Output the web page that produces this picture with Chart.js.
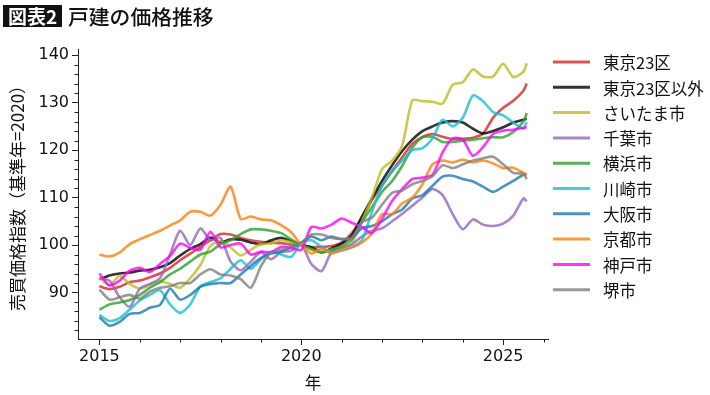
<!DOCTYPE html>
<html><head><meta charset="utf-8">
<script src="https://cdn.jsdelivr.net/npm/chart.js@4.4.1/dist/chart.umd.min.js"></script>
<style>
html,body{margin:0;padding:0;background:#fff;}
#wrap{position:relative;width:710px;height:395px;overflow:hidden;}
#c{position:absolute;left:0;top:0;}
#badge{position:absolute;left:3px;top:5px;width:59px;height:22px;background:#111;color:#fff;font:bold 19px "Noto Sans CJK JP";line-height:22px;text-align:center;}
#ttl{position:absolute;left:68px;top:2px;font:500 20.8px "Noto Sans CJK JP";line-height:28px;color:#111;white-space:nowrap;}
</style></head>
<body>
<div id="wrap">
<canvas id="c" width="710" height="395"></canvas>
<div id="badge">図表2</div>
<div id="ttl">戸建の価格推移</div>
</div>
<script>
// ---- data (quarterly readings, decimal year) ----
const years = [2015,2015.25,2015.5,2015.75,2016,2016.25,2016.5,2016.75,2017,2017.25,2017.5,2017.75,2018,2018.25,2018.5,2018.75,2019,2019.25,2019.5,2019.75,2020,2020.25,2020.5,2020.75,2021,2021.25,2021.5,2021.75,2022,2022.25,2022.5,2022.75,2023,2023.25,2023.5,2023.75,2024,2024.25,2024.5,2024.75,2025,2025.25,2025.5,2025.583];
const seriesNames = ["東京23区","東京23区以外","さいたま市","千葉市","横浜市","川崎市","大阪市","京都市","神戸市","堺市"];
const tokyo23 = [91.3,90.7,91.2,92.2,92.5,93.2,94.0,95.2,96.8,98.2,99.6,101.0,102.3,102.2,101.5,101.0,100.7,100.5,100.4,100.1,100.0,99.6,99.6,99.8,100.5,102.5,105.5,109.5,112.5,115.6,118.5,121.3,122.8,123.4,122.8,122.3,122.4,122.6,123.5,126.8,128.9,130.4,132.5,134.0];
const tokyoOther = [92.8,93.6,94.0,94.2,94.6,94.8,95.3,96.2,97.8,99.2,100.2,101.6,100.6,101.2,101.1,100.5,100.2,101.0,101.5,100.8,100.0,99.5,98.5,99.3,100.3,102.0,106.0,109.8,113.5,116.8,119.8,122.2,124.0,125.0,125.8,126.1,125.8,124.5,123.5,124.0,124.8,125.8,126.4,126.6];
const saitama = [93.2,91.5,93.5,91.8,90.8,91.5,92.3,91.8,91.0,93.0,95.8,99.8,100.9,99.5,97.8,99.0,100.2,100.3,101.0,100.6,100.0,99.0,98.5,99.0,99.5,100.5,105.0,110.0,116.0,117.8,121.0,130.5,130.3,130.2,129.8,133.8,134.3,137.0,135.5,135.5,138.2,135.4,136.5,138.3];
const chiba = [93.0,92.5,89.0,87.0,90.8,91.8,93.0,98.0,103.0,100.0,103.5,101.0,101.5,96.5,94.7,96.5,98.5,97.0,98.5,98.8,100.0,96.0,94.5,98.5,99.3,100.1,101.8,103.0,103.5,105.0,106.6,108.3,110.0,111.8,110.5,106.5,103.3,105.4,104.3,104.0,104.5,106.2,109.8,109.2];
const yokohama = [86.4,87.5,87.9,88.4,89.5,91.0,92.2,93.8,95.0,96.5,98.0,98.6,100.2,101.0,102.3,103.3,103.3,103.0,102.5,101.2,100.0,99.2,98.4,99.0,99.8,101.2,104.8,108.0,111.2,113.5,116.7,120.5,122.7,122.8,121.7,121.7,122.0,122.2,122.5,122.7,122.7,123.8,126.0,127.8];
const kawasaki = [85.3,84.0,84.6,86.4,88.3,89.5,90.5,87.5,85.7,87.5,91.3,92.2,93.0,95.0,96.8,95.0,97.0,98.6,98.0,97.5,100.5,101.0,99.6,98.5,98.8,99.5,101.0,107.0,112.5,115.5,117.8,120.0,120.4,122.5,126.4,125.0,126.8,131.5,130.3,128.0,127.3,125.8,124.5,125.9];
const osaka = [84.8,83.0,83.8,85.5,85.7,86.8,87.4,90.8,88.5,89.5,91.2,91.8,92.0,92.0,93.8,95.6,97.3,98.2,98.6,99.5,100.5,101.8,101.0,101.8,101.2,101.5,103.5,104.0,105.0,106.5,107.5,109.8,110.5,112.5,114.4,114.6,113.9,113.4,112.3,111.2,112.3,113.5,114.8,114.9];
const kyoto = [98.0,97.6,98.4,100.2,101.2,102.1,103.0,104.1,105.2,107.0,107.0,106.2,108.5,112.3,105.5,106.0,105.4,105.2,104.2,102.7,100.0,98.2,99.2,98.2,99.0,99.5,100.5,102.5,106.5,106.5,108.8,110.0,112.8,117.0,117.8,117.4,118.0,117.4,117.8,117.2,116.2,116.3,115.2,114.9];
const kobe = [94.0,91.5,92.5,94.6,95.2,94.3,96.0,97.7,100.3,99.4,99.0,102.8,99.5,100.0,100.3,98.0,98.6,98.5,99.6,99.4,99.0,103.8,103.5,104.3,105.6,104.7,103.8,102.5,105.5,109.3,111.8,113.9,114.2,114.8,119.5,122.5,122.2,118.8,120.6,123.4,124.1,124.3,124.7,124.8];
const sakai = [90.6,88.5,89.0,89.5,88.7,90.2,91.0,91.3,92.0,92.0,93.8,94.9,93.8,93.6,92.8,91.0,95.5,98.5,99.0,99.8,100.5,102.2,102.2,101.5,101.3,101.5,104.8,105.8,108.5,111.0,111.5,112.8,113.5,114.5,116.8,116.2,117.0,117.8,118.3,118.6,117.0,115.2,115.0,113.9];
const xMajorTicks = [2015, 2020, 2025];
const xMinorTicks = [2016, 2017, 2018, 2019, 2021, 2022, 2023, 2024, 2026];
const yMajorTicks = [90, 100, 110, 120, 130, 140];
const yMinorTicks = [82,84,86,88,92,94,96,98,102,104,106,108,112,114,116,118,122,124,126,128,132,134,136,138];

const seriesValues = [tokyo23, tokyoOther, saitama, chiba, yokohama, kawasaki, osaka, kyoto, kobe, sakai];
const seriesColors = ["rgba(214,39,40,0.8)","rgba(0,0,0,0.8)","rgba(188,189,34,0.8)","rgba(148,103,189,0.8)","rgba(44,160,44,0.8)","rgba(23,190,207,0.8)","rgba(31,119,180,0.8)","rgba(255,127,14,0.8)","rgba(255,0,255,0.8)","rgba(127,127,127,0.8)"];

const AXIS = '#222';
const minorTickPlugin = {
  id: 'minorTicks',
  afterDraw(chart) {
    const {ctx, scales: {x, y}} = chart;
    ctx.save();
    ctx.strokeStyle = AXIS; ctx.lineWidth = 1;
    ctx.beginPath();
    xMinorTicks.forEach(v => { const px = Math.round(x.getPixelForValue(v)) + 0.5; ctx.moveTo(px, x.top); ctx.lineTo(px, x.top + 3.5); });
    yMinorTicks.forEach(v => { const py = Math.round(y.getPixelForValue(v)) + 0.5; ctx.moveTo(y.right, py); ctx.lineTo(y.right - 3.5, py); });
    ctx.stroke();
    ctx.restore();
  }
};
const legendPlugin = {
  id: 'sideLegend',
  afterDraw(chart) {
    const ctx = chart.ctx, area = chart.chartArea;
    const x0 = area.right + 5, y0 = 62, step = 25.3;
    ctx.save();
    chart.data.datasets.forEach((ds, i) => {
      const yy = y0 + i * step;
      ctx.strokeStyle = ds.borderColor; ctx.lineWidth = 3;
      ctx.beginPath(); ctx.moveTo(x0, yy); ctx.lineTo(x0 + 37, yy); ctx.stroke();
      ctx.fillStyle = '#111'; ctx.font = '16.5px "Noto Sans CJK JP"'; ctx.textBaseline = 'middle'; ctx.textAlign = 'left';
      ctx.fillText(ds.label, x0 + 50, yy + 1);
    });
    ctx.restore();
  }
};

new Chart(document.getElementById('c'), {
  type: 'line',
  data: {
    datasets: seriesNames.map((n, i) => ({
      label: n,
      data: years.map((yr, j) => ({x: yr, y: seriesValues[i][j]})),
      borderColor: seriesColors[i],
      backgroundColor: seriesColors[i],
      borderWidth: 2.6,
      pointRadius: 0,
      tension: 0.25,
      fill: false,
      order: 10 - i
    }))
  },
  options: {
    responsive: false,
    animation: false,
    events: [],
    layout: {padding: {left: 0, right: 162, top: 49, bottom: 0}},
    plugins: {legend: {display: false}, tooltip: {enabled: false}},
    scales: {
      x: {
        type: 'linear', min: 2014.47, max: 2026.11,
        afterBuildTicks: s => { s.ticks = xMajorTicks.map(v => ({value: v})); },
        afterFit: s => { s.height = 56; },
        ticks: {font: {family: 'DejaVu Sans', size: 16}, color: '#111', padding: 2, maxRotation: 0, autoSkip: false, callback: v => String(v)},
        grid: {drawOnChartArea: false, tickLength: 6, tickColor: AXIS, tickWidth: 1},
        border: {display: true, color: AXIS, width: 1},
        title: {display: true, text: '年', font: {family: 'Noto Sans CJK JP', size: 16.5}, color: '#111', padding: {top: 0, bottom: 2}}
      },
      y: {
        type: 'linear', min: 80.2, max: 141.3,
        afterBuildTicks: s => { s.ticks = yMajorTicks.map(v => ({value: v})); },
        afterFit: s => { s.width = 78; },
        ticks: {font: {family: 'DejaVu Sans', size: 16}, color: '#111', padding: 3, autoSkip: false, callback: v => String(v)},
        grid: {drawOnChartArea: false, tickLength: 6, tickColor: AXIS, tickWidth: 1},
        border: {display: true, color: AXIS, width: 1},
        title: {display: true, text: '売買価格指数（基準年=2020）', font: {family: 'Noto Sans CJK JP', size: 17}, color: '#111', padding: {top: 7, bottom: 0}}
      }
    }
  },
  plugins: [minorTickPlugin, legendPlugin]
});
</script>
</body></html>
